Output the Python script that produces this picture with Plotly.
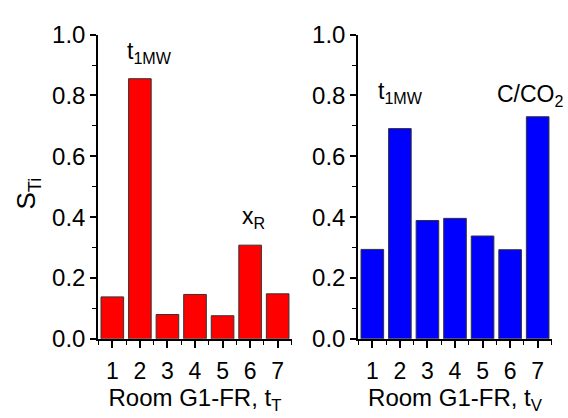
import plotly.graph_objects as go

categories = [1, 2, 3, 4, 5, 6, 7]
s_ti_temperature = [0.138, 0.855, 0.080, 0.146, 0.076, 0.308, 0.148]
s_ti_visibility = [0.294, 0.691, 0.389, 0.396, 0.338, 0.293, 0.730]
y_ticks = [0.0, 0.2, 0.4, 0.6, 0.8, 1.0]
y_tick_labels = ["0.0", "0.2", "0.4", "0.6", "0.8", "1.0"]

FONT = "Arial, Liberation Sans, sans-serif"

fig = go.Figure()
fig.add_trace(go.Bar(x=categories, y=s_ti_temperature, xaxis="x", yaxis="y",
                     marker=dict(color="#FF0000", line=dict(color="#333333", width=1)),
                     width=0.82, showlegend=False))
fig.add_trace(go.Bar(x=categories, y=s_ti_visibility, xaxis="x2", yaxis="y2",
                     marker=dict(color="#0000FF", line=dict(color="#333333", width=1)),
                     width=0.82, showlegend=False))

yb, yt = 1 - 347.3 / 418, 1 - 22 / 418

common_x = dict(range=[0.48, 7.52], tickmode="array", tickvals=categories,
                ticktext=[str(c) for c in categories],
                showline=True, linecolor="black", linewidth=1.5,
                ticks="outside", ticklen=7, tickwidth=1.5, tickcolor="black",
                minor=dict(dtick=0.5, tick0=0.5, ticks="outside", ticklen=4, tickwidth=1.2, tickcolor="black"),
                showgrid=False, zeroline=False,
                tickfont=dict(family=FONT, size=23, color="black"), ticklabelstandoff=4,
                title_font=dict(family=FONT, size=24, color="black"),
                title_standoff=4)
common_y = dict(range=[0, 1.0], tickmode="array", tickvals=y_ticks, ticktext=y_tick_labels,
                showline=True, linecolor="black", linewidth=1.5,
                ticks="outside", ticklen=6, tickwidth=1.5, tickcolor="black",
                minor=dict(dtick=0.1, ticks="outside", ticklen=4, tickwidth=1.2, tickcolor="black"),
                showgrid=False, zeroline=False,
                tickfont=dict(family=FONT, size=24, color="black"), ticklabelstandoff=0)

fig.update_layout(
    width=568, height=418,
    margin=dict(l=0, r=0, t=0, b=0),
    plot_bgcolor="white", paper_bgcolor="white",
    bargap=0.18,
    xaxis=dict(domain=[98 / 568, 292 / 568], anchor="y",
               title=dict(text="Room G1-FR, t<sub>T</sub>"), **common_x),
    yaxis=dict(domain=[yb, yt], anchor="x", **common_y),
    xaxis2=dict(domain=[358 / 568, 552 / 568], anchor="y2",
                title=dict(text="Room G1-FR, t<sub>V</sub>"), **common_x),
    yaxis2=dict(domain=[yb, yt], anchor="x2", **common_y),
)

ann_font = dict(family=FONT, size=23, color="black")
fig.add_annotation(x=1.45, y=0.94, xref="x", yref="y", text="t<sub>1MW</sub>",
                   showarrow=False, xanchor="left", yanchor="middle", font=ann_font)
fig.add_annotation(x=5.62, y=0.40, xref="x", yref="y", text="x<sub>R</sub>",
                   showarrow=False, xanchor="left", yanchor="middle", font=ann_font)
fig.add_annotation(x=1.14, y=0.81, xref="x2", yref="y2", text="t<sub>1MW</sub>",
                   showarrow=False, xanchor="left", yanchor="middle", font=ann_font)
fig.add_annotation(x=5.46, y=0.80, xref="x2", yref="y2", text="C/CO<sub>2</sub>",
                   showarrow=False, xanchor="left", yanchor="middle", font=ann_font)
fig.add_annotation(x=28 / 568, y=1 - 192 / 418, xref="paper", yref="paper",
                   text="S<sub>Ti</sub>", textangle=-90, showarrow=False,
                   xanchor="center", yanchor="middle",
                   font=dict(family=FONT, size=26, color="black"))

fig.write_html("out.html")
